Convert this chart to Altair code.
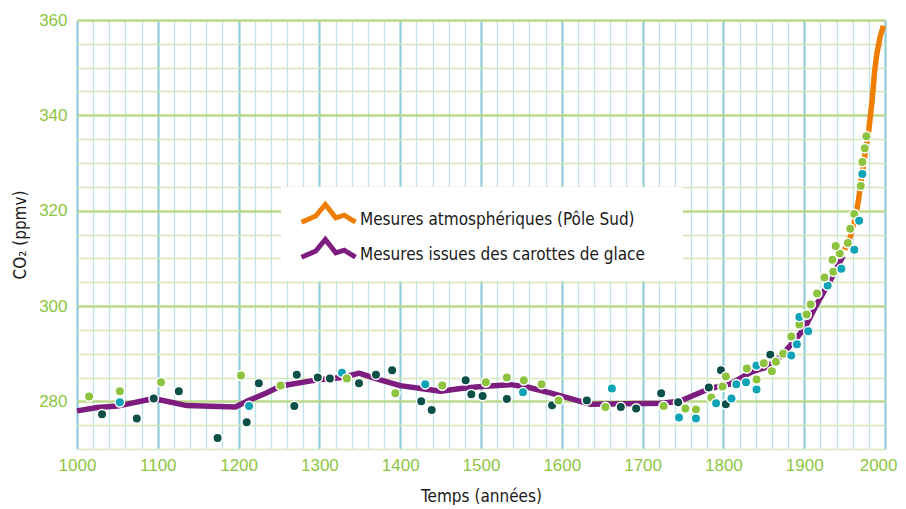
import altair as alt
import pandas as pd

# ---------------- data ----------------
LBL_ATM = "Mesures atmosphériques (Pôle Sud)"
LBL_ICE = "Mesures issues des carottes de glace"

ice_years = [1000, 1025, 1050, 1095, 1136, 1196, 1210, 1235, 1252, 1301, 1329, 1349,
             1371, 1400, 1430, 1450, 1475, 1500, 1536, 1557, 1589, 1635, 1722, 1746,
             1783, 1808, 1835, 1854, 1870, 1886, 1901, 1916, 1934, 1948]
ice_ppm = [278.0, 278.7, 279.0, 280.6, 279.1, 278.8, 280.0, 281.8, 283.2, 284.6, 285.0, 285.9,
           284.7, 283.3, 282.6, 282.1, 282.7, 283.1, 283.5, 283.0, 281.6, 279.4, 279.6, 280.0,
           282.7, 283.6, 286.2, 287.2, 289.3, 292.3, 295.5, 300.5, 305.9, 310.5]

atm_years = [1950, 1957, 1962, 1967, 1972, 1977, 1980, 1984, 1987, 1990, 1994, 1998]
atm_ppm = [311.8, 314.5, 317.5, 322.0, 328.0, 334.0, 337.0, 343.0, 349.0, 353.0, 356.5, 358.8]

pt_years = [1015, 1031, 1053, 1053, 1074, 1095, 1104, 1126, 1174, 1203, 1213, 1210,
            1225, 1252, 1272, 1269, 1298, 1313, 1328, 1334, 1349, 1370, 1390, 1394,
            1426, 1431, 1439, 1452, 1481, 1488, 1502, 1506, 1532, 1532, 1553, 1552,
            1575, 1588, 1596, 1631, 1662, 1654, 1673, 1692, 1723, 1726, 1744, 1745,
            1753, 1766, 1766, 1782, 1785, 1791, 1797, 1803, 1799, 1803, 1810, 1816,
            1828, 1829, 1841, 1841, 1841, 1850, 1858, 1860, 1865, 1874, 1884, 1891,
            1884, 1905, 1894, 1894, 1903, 1916, 1908, 1929, 1925, 1936, 1946, 1935,
            1944, 1939, 1954, 1962, 1957, 1962, 1968, 1970, 1972, 1972, 1975, 1977]
pt_ppm = [281.0, 277.3, 282.1, 279.8, 276.4, 280.6, 284.0, 282.1, 272.3, 285.4, 279.0, 275.6,
          283.8, 283.3, 285.6, 279.0, 285.0, 284.8, 286.0, 284.8, 283.8, 285.6, 286.5, 281.7,
          280.0, 283.6, 278.2, 283.3, 284.4, 281.5, 281.1, 284.0, 280.5, 285.0, 284.4, 281.9,
          283.6, 279.2, 280.2, 280.2, 282.7, 278.8, 278.8, 278.5, 281.7, 279.0, 279.8, 276.6,
          278.5, 278.3, 276.4, 282.9, 280.8, 279.6, 286.5, 285.2, 283.1, 279.4, 280.6, 283.6,
          284.0, 286.9, 287.5, 284.6, 282.5, 288.0, 289.8, 286.3, 288.3, 290.0, 289.6, 292.0,
          293.6, 294.7, 296.1, 297.7, 298.2, 302.6, 300.3, 304.3, 306.0, 307.2, 307.8, 309.7,
          311.0, 312.6, 313.2, 311.8, 316.2, 319.3, 317.9, 325.2, 327.7, 330.2, 333.1, 335.6]
pt_group = ["l", "d", "l", "t", "d", "d", "l", "d", "d", "l", "t", "d",
            "d", "l", "d", "d", "d", "d", "t", "l", "d", "d", "d", "l",
            "d", "t", "d", "l", "d", "d", "d", "l", "d", "l", "l", "t",
            "l", "d", "l", "d", "t", "l", "d", "d", "d", "l", "d", "t",
            "l", "l", "t", "d", "l", "t", "d", "l", "l", "d", "t", "t",
            "t", "l", "t", "l", "t", "l", "d", "l", "l", "l", "t", "t",
            "l", "t", "l", "t", "l", "l", "l", "t", "l", "l", "t", "l",
            "l", "l", "l", "t", "l", "l", "t", "l", "t", "l", "l", "l"]

x_ticks = list(range(1000, 2001, 20))
y_ticks = list(range(270, 361, 5))

# ---------------- styles ----------------
ORANGE = "#ef7d00"
PURPLE = "#7d1d7f"
GREEN_TXT = "#8dc63f"
NARROW = "Liberation Sans Narrow, DejaVu Sans Condensed, sans-serif"
ICON = "M-2.7,0.27L-1.27,-0.35L-0.32,-1.51L0.73,-0.16L1.57,-0.43L2.7,0.27"

lines = pd.DataFrame({
    "year": ice_years + atm_years,
    "ppm": ice_ppm + atm_ppm,
    "series": [LBL_ICE] * len(ice_years) + [LBL_ATM] * len(atm_years),
    "order": list(range(len(ice_years))) + list(range(len(atm_years))),
})
points = pd.DataFrame({"year": pt_years, "ppm": pt_ppm, "grp": pt_group})

x_scale = alt.Scale(domain=[1000, 2000], nice=False, zero=False)
y_scale = alt.Scale(domain=[270, 360], nice=False, zero=False)

x_axis = alt.Axis(
    values=x_ticks, tickCount=200, format="d",
    labelExpr="datum.value % 100 === 0 ? datum.label : ''",
    labelAlign={"condition": {"test": "datum.value === 2000", "value": "right"}, "value": "center"},
    labelOffset={"condition": {"test": "datum.value === 2000", "value": 12}, "value": 0},
    gridColor={"condition": {"test": "datum.value % 100 === 0", "value": "#92cbda"}, "value": "#bfe2ea"},
    gridWidth={"condition": {"test": "datum.value % 100 === 0", "value": 2.2}, "value": 1.3},
    domain=False, ticks=False, tickSize=0,
    labelColor=GREEN_TXT, labelFont="Liberation Sans", labelFontSize=17, labelPadding=8,
    labelOverlap=False, labelFlush=False,
    title="Temps (années)", titleFont=NARROW, titleFontSize=17, titleFontWeight="normal",
    titleColor="#1a1a1a", titlePadding=15,
)
y_axis = alt.Axis(
    values=y_ticks, tickCount=200, format="d",
    labelExpr="datum.value % 20 === 0 ? datum.label : ''",
    gridColor={"condition": {"test": "datum.value % 20 === 0", "value": "#bcd98a"}, "value": "#d6e8b8"},
    gridWidth={"condition": {"test": "datum.value % 20 === 0", "value": 2.5}, "value": 1.5},
    domain=False, ticks=False, tickSize=0,
    labelColor=GREEN_TXT, labelFont="Liberation Sans", labelFontSize=17, labelPadding=10,
    labelOverlap=False,
    title="CO₂ (ppmv)", titleFont=NARROW, titleFontSize=17, titleFontWeight="normal",
    titleColor="#1a1a1a", titlePadding=9,
)

box = alt.Chart(pd.DataFrame({"a": [0]})).mark_rect(color="white").encode(
    x=alt.value(204), x2=alt.value(606), y=alt.value(167), y2=alt.value(261)
)

line_layer = alt.Chart(lines).mark_line(strokeWidth=5.5, strokeJoin="round").encode(
    x=alt.X("year:Q", scale=x_scale, axis=x_axis),
    y=alt.Y("ppm:Q", scale=y_scale, axis=y_axis),
    order="order:Q",
    color=alt.Color(
        "series:N",
        scale=alt.Scale(domain=[LBL_ATM, LBL_ICE], range=[ORANGE, PURPLE]),
        legend=alt.Legend(
            title=None, orient="none", legendX=239, legendY=187,
            symbolType=ICON, symbolSize=400, symbolStrokeWidth=5,
            labelFont=NARROW, labelFontSize=17, labelColor="#1a1a1a", labelLimit=500,
            labelOffset=19, rowPadding=-4, padding=0,
        ),
    ),
)

pt_layer = alt.Chart(points).mark_circle(size=90, opacity=1, stroke="white", strokeWidth=1.5).encode(
    x=alt.X("year:Q", scale=x_scale),
    y=alt.Y("ppm:Q", scale=y_scale),
    color=alt.Color(
        "grp:N",
        scale=alt.Scale(domain=["d", "t", "l"], range=["#0b4f48", "#0ea3b6", "#8dc33f"]),
        legend=None,
    ),
)

chart = (
    alt.layer(box, line_layer, pt_layer)
    .resolve_scale(color="independent")
    .properties(
        width=808, height=429,
        autosize=alt.AutoSizeParams(type="none"),
        padding={"left": 69, "top": 12, "right": 13, "bottom": 56},
    )
    .configure_view(stroke=None)
)

chart.save("out.html", embed_options={"renderer": "svg", "actions": False})
